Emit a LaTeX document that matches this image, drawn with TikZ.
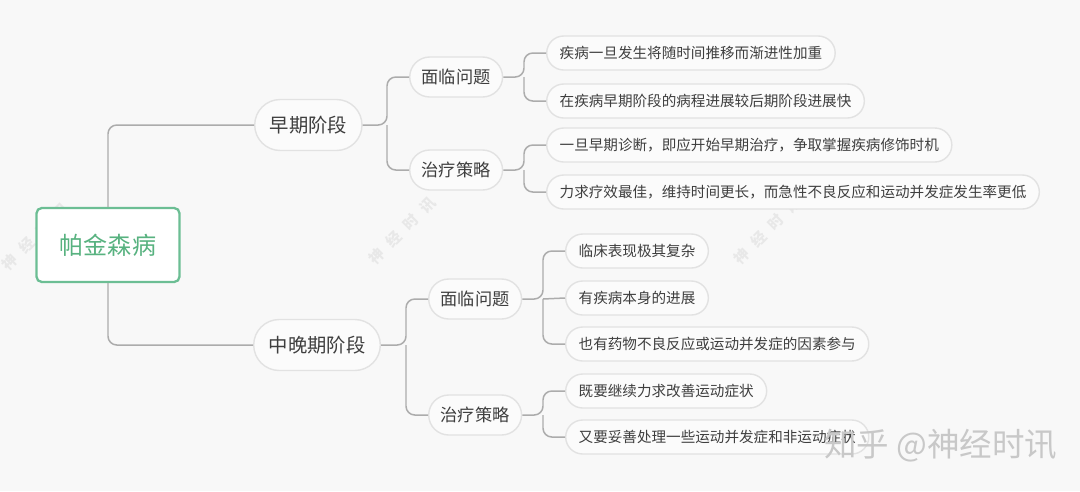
\documentclass[tikz,border=0pt]{standalone}
\usepackage{fontspec}
\setmainfont{Noto Sans CJK SC}
\usetikzlibrary{positioning}
\definecolor{mmbg}{RGB}{248,248,248}
\definecolor{mmfill}{RGB}{251,251,251}
\definecolor{mmborder}{RGB}{226,226,226}
\definecolor{mmline}{RGB}{172,172,172}
\definecolor{mmtext}{RGB}{62,62,62}
\definecolor{mmgreen}{RGB}{108,190,148}
\definecolor{mmgreentext}{RGB}{88,178,128}
\definecolor{mmwater}{RGB}{232,232,232}
\definecolor{mmsite}{RGB}{200,200,200}

\begin{document}
\begin{tikzpicture}[x=0.02cm,y=-0.02cm,
  rootbox/.style={draw=mmgreen, line width=1.3pt, fill=white, rounded corners=3pt,
    minimum width=2.86cm, minimum height=1.48cm, text=mmgreentext, font=\fontsize{13.7}{16}\selectfont},
  stagebox/.style={draw=mmborder, line width=0.8pt, fill=mmfill, rounded corners=0.51cm,
    minimum height=1.02cm, inner xsep=0.3cm, text=mmtext, font=\fontsize{11}{13}\selectfont, anchor=west},
  midbox/.style={draw=mmborder, line width=0.8pt, fill=mmfill, rounded corners=0.4cm,
    minimum height=0.8cm, inner xsep=0.24cm, text=mmtext, font=\fontsize{9.8}{12}\selectfont, anchor=west},
  leafbox/.style={draw=mmborder, line width=0.8pt, fill=mmfill, rounded corners=0.34cm,
    minimum height=0.68cm, inner xsep=0.26cm, text=mmtext, font=\fontsize{8.3}{10}\selectfont, anchor=west},
  link/.style={draw=mmline, line width=0.85pt, rounded corners=5pt},
  wmark/.style={text=mmwater, inner sep=0pt, font=\fontsize{8.5}{9}\selectfont\bfseries, rotate=45}]

  % background and page size
  \useasboundingbox (0,0) rectangle (1080,491);
  \fill[mmbg] (0,0) rectangle (1080,491);

  % faint watermarks, one glyph at a time
  \foreach \wx/\wy/\wn in {10/262/wa, 377/256/wb, 742/256/wc}{
    \foreach \ch [count=\i from 0] in {神,经,时,讯}
      \node[wmark] (\wn\i) at (\wx+17*\i,\wy-17*\i) {\ch};
  }

  % root
  \node[rootbox] (pd) at (108,245) {帕金森病};

  % stages
  \node[stagebox] (early) at (254,125) {早期阶段};
  \node[stagebox] (late) at (253,345) {中晚期阶段};

  % second level
  \node[midbox] (earlyprob) at (409,77) {面临问题};
  \node[midbox] (earlytreat) at (409,170) {治疗策略};
  \node[midbox] (lateprob) at (428,299) {面临问题};
  \node[midbox] (latetreat) at (428,415) {治疗策略};

  % leaves
  \node[leafbox] (ep1) at (546,53) {疾病一旦发生将随时间推移而渐进性加重};
  \node[leafbox] (ep2) at (546,101) {在疾病早期阶段的病程进展较后期阶段进展快};
  \node[leafbox] (et1) at (546,145) {一旦早期诊断，即应开始早期治疗，争取掌握疾病修饰时机};
  \node[leafbox] (et2) at (546,192) {力求疗效最佳，维持时间更长，而急性不良反应和运动并发症发生率更低};
  \node[leafbox] (lp1) at (565,251) {临床表现极其复杂};
  \node[leafbox] (lp2) at (565,298) {有疾病本身的进展};
  \node[leafbox] (lp3) at (565,344) {也有药物不良反应或运动并发症的因素参与};
  \node[leafbox] (lt1) at (565,391) {既要继续力求改善运动症状};
  \node[leafbox] (lt2) at (565,437) {又要妥善处理一些运动并发症和非运动症状};

  % junctions
  \coordinate (ej) at (387,125);
  \coordinate (lj) at (406,345);
  \coordinate (epj) at (524,77);
  \coordinate (etj) at (524,170);
  \coordinate (lpj) at (543,299);
  \coordinate (ltj) at (543,415);

  % connectors
  \draw[link] (pd.north) |- (early.west);
  \draw[link] (pd.south) |- (late.west);
  \draw[link] (early.east) -- (ej) |- (earlyprob.west);
  \draw[link] (ej) |- (earlytreat.west);
  \draw[link] (late.east) -- (lj) |- (lateprob.west);
  \draw[link] (lj) |- (latetreat.west);
  \draw[link] (earlyprob.east) -- (epj) |- (ep1.west);
  \draw[link] (epj) |- (ep2.west);
  \draw[link] (earlytreat.east) -- (etj) |- (et1.west);
  \draw[link] (etj) |- (et2.west);
  \draw[link] (lateprob.east) -- (lpj) |- (lp1.west);
  \draw[link] (lpj) -- (lp2.west);
  \draw[link] (lpj) |- (lp3.west);
  \draw[link] (latetreat.east) -- (ltj) |- (lt1.west);
  \draw[link] (ltj) |- (lt2.west);

  % site mark
  \node[text=mmsite, font=\fontsize{18.5}{21}\selectfont, anchor=west] (site) at (818,446) {知乎 @神经时讯};
\end{tikzpicture}
\end{document}
